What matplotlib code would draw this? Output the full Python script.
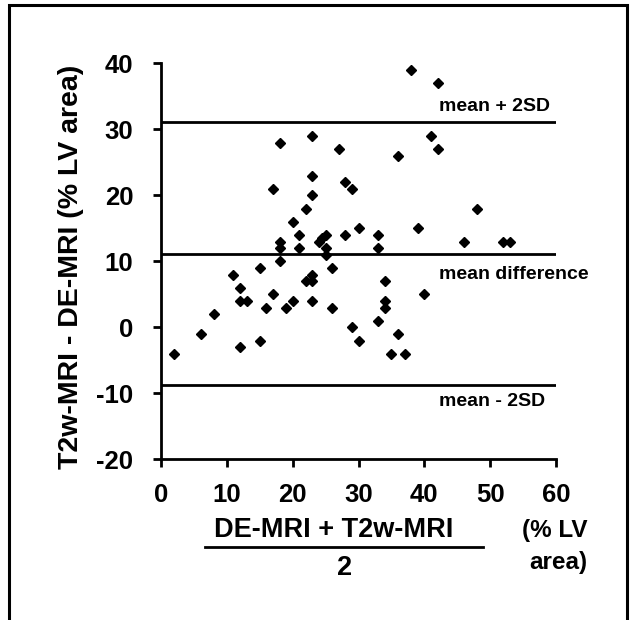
import matplotlib
matplotlib.use('Agg')
import matplotlib.pyplot as plt
from matplotlib.patches import Rectangle
from matplotlib.lines import Line2D

plt.rcParams['font.family'] = ['Liberation Sans', 'DejaVu Sans']
plt.rcParams['font.weight'] = 'bold'
plt.rcParams['axes.unicode_minus'] = False

# Mean of the two methods (% LV area)
avg = [2, 6, 8, 11, 12, 12, 13, 12, 15, 15, 16, 17, 17, 18, 18, 18, 18, 19, 20, 20,
       21, 21, 22, 22, 23, 23, 23, 23, 23, 23, 24, 24.5, 25, 25, 25, 26, 26, 27, 28, 29,
       28, 29, 30, 30, 33, 33, 33, 34, 34, 34, 35, 36, 36, 37, 38, 39, 40, 41, 42, 42,
       46, 48, 52, 53]
# Difference T2w-MRI - DE-MRI (% LV area)
diff = [-4, -1, 2, 8, 6, 4, 4, -3, 9, -2, 3, 21, 5, 28, 13, 12, 10, 3, 4, 16,
        14, 12, 18, 7, 29, 23, 20, 8, 7, 4, 13, 13.5, 14, 12, 11, 9, 3, 27, 22, 21,
        14, 0, 15, -2, 14, 12, 1, 7, 4, 3, -4, -1, 26, -4, 39, 15, 5, 29, 37, 27,
        13, 18, 13, 13]

mean_difference = 11.1
upper_limit = 31.1
lower_limit = -8.8
line_labels = ["mean + 2SD", "mean difference", "mean - 2SD"]
label_y = [33.4, 8.0, -11.3]
xticks = [0, 10, 20, 30, 40, 50, 60]
yticks = [-20, -10, 0, 10, 20, 30, 40]

W, H = 635, 620
fig = plt.figure(figsize=(W / 100, H / 100), dpi=100)
ax = fig.add_axes([161 / W, 1 - 459.3 / H, (556 - 161) / W, (459.3 - 63.3) / H])

for v in [upper_limit, mean_difference, lower_limit]:
    ax.plot([xticks[0], xticks[-1]], [v, v], color='black', lw=2, solid_capstyle='butt')

ax.plot(avg, diff, linestyle='none', marker='D', color='black', markersize=5.5)

for t, yv in zip(line_labels, label_y):
    ax.text(42.3, yv, t, fontsize=14, fontweight='bold', va='center', ha='left')

ax.set_xlim(xticks[0], xticks[-1])
ax.set_ylim(yticks[0], yticks[-1])
ax.set_xticks(xticks)
ax.set_yticks(yticks)
for s in ['top', 'right']:
    ax.spines[s].set_visible(False)
for s in ['left', 'bottom']:
    ax.spines[s].set_linewidth(2)
ax.tick_params(axis='both', direction='out', length=6, width=2, labelsize=18.5)
ax.tick_params(axis='y', pad=14)
ax.tick_params(axis='x', pad=11)
for lab in ax.get_xticklabels() + ax.get_yticklabels():
    lab.set_fontweight('bold')

fig.text(71 / W, 1 - 267 / H, "T2w-MRI - DE-MRI (% LV area)", rotation=90,
         fontsize=20.5, fontweight='bold', ha='center', va='center')
fig.text(334 / W, 1 - 530 / H, "DE-MRI + T2w-MRI", fontsize=19.5, fontweight='bold',
         ha='center', va='center')
fig.add_artist(Line2D([205 / W, 483 / W], [1 - 546.7 / H, 1 - 546.7 / H],
                      color='black', lw=2, transform=fig.transFigure))
fig.text(345 / W, 1 - 568 / H, "2", fontsize=19.5, fontweight='bold',
         ha='center', va='center')
fig.text(587 / W, 1 - 530 / H, "(% LV", fontsize=17.5, fontweight='bold',
         ha='right', va='center')
fig.text(587 / W, 1 - 563 / H, "area)", fontsize=17.5, fontweight='bold',
         ha='right', va='center')

fig.add_artist(Rectangle((8.5 / W, -0.1), (627 - 8.5) / W, 1.1 - 5 / H,
                         fill=False, edgecolor='black', lw=2.2,
                         transform=fig.transFigure))

fig.savefig('out.png', dpi=100)
